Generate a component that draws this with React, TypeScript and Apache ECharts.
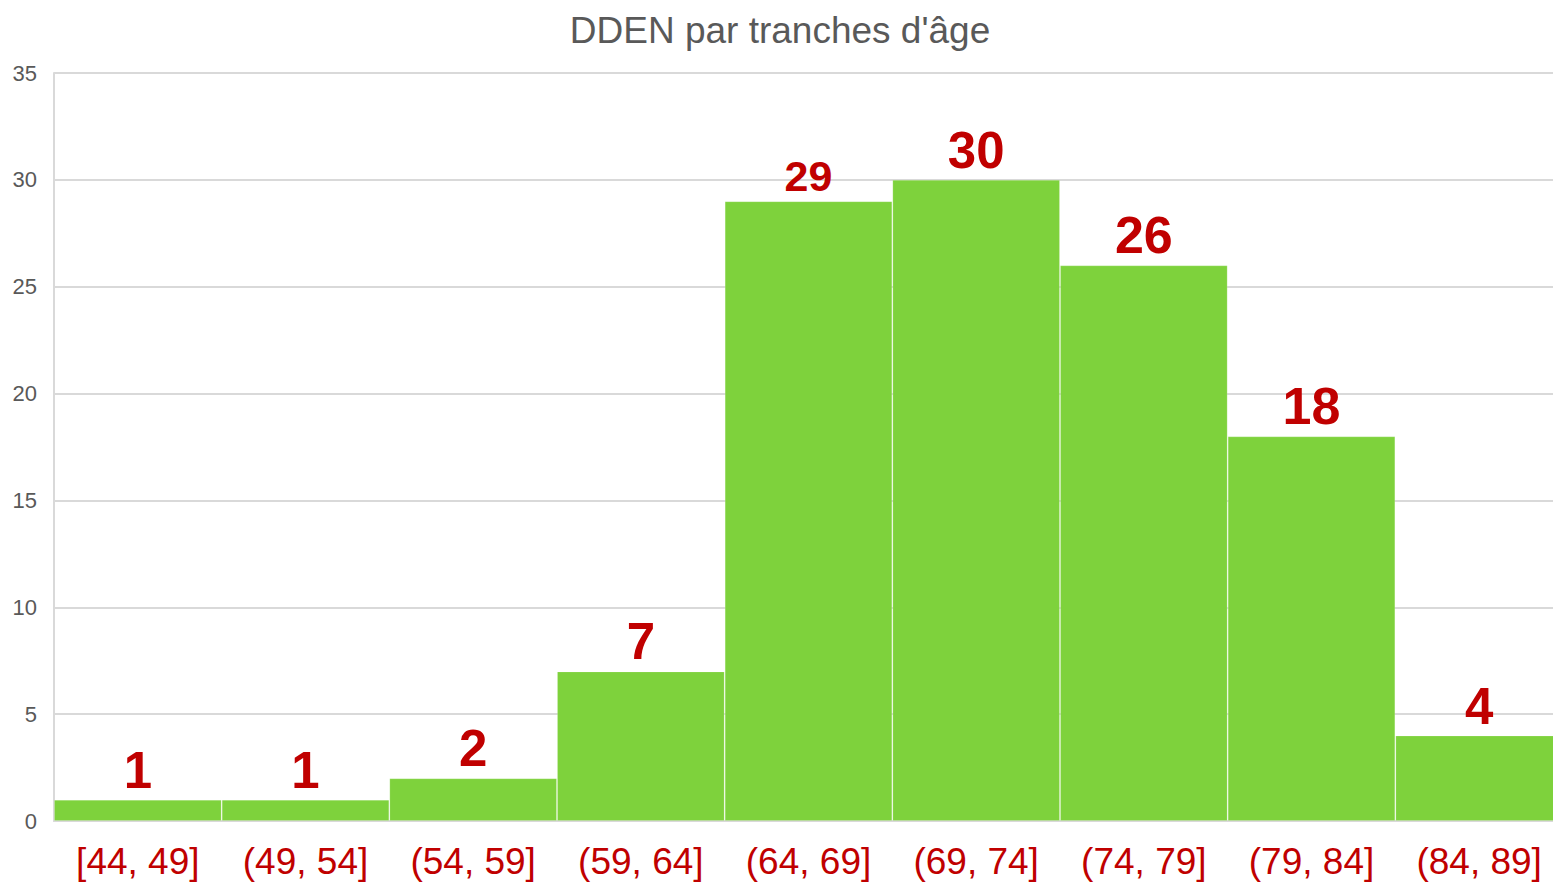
import React, { useEffect, useRef } from "react";
import * as echarts from "echarts";

const categories = ["[44, 49]", "(49, 54]", "(54, 59]", "(59, 64]", "(64, 69]", "(69, 74]", "(74, 79]", "(79, 84]", "(84, 89]"];
const counts = [1, 1, 2, 7, 29, 30, 26, 18, 4];
const labelSizes = [51, 51, 51, 51, 43, 51, 52, 52, 51];
const yTicks = { min: 0, max: 35, interval: 5 };

export default function App() {
  const ref = useRef<HTMLDivElement>(null);
  useEffect(() => {
    const chart = echarts.init(ref.current!, null, { renderer: "svg" });
    chart.setOption({
      animation: false,
      backgroundColor: "#ffffff",
      title: {
        text: "DDEN par tranches d'âge",
        left: 775,
        textAlign: "center",
        top: 7,
        textStyle: { fontFamily: "Liberation Sans", fontSize: 37, fontWeight: "normal", color: "#595959" },
      },
      grid: { left: 54, right: 0, top: 73, bottom: 62, containLabel: false },
      xAxis: {
        type: "category",
        data: categories,
        axisLine: { show: true, lineStyle: { color: "#d9d9d9", width: 2 } },
        axisTick: { show: false },
        axisLabel: { color: "#c00000", fontFamily: "Liberation Sans", fontSize: 37, margin: 22 },
      },
      yAxis: {
        type: "value",
        min: yTicks.min,
        max: yTicks.max,
        interval: yTicks.interval,
        axisLine: { show: true, lineStyle: { color: "#d9d9d9", width: 2 } },
        axisTick: { show: false },
        splitLine: { lineStyle: { color: "#d9d9d9", width: 2 } },
        axisLabel: { color: "#595959", fontFamily: "Liberation Sans", fontSize: 22, margin: 17 },
      },
      series: [
        {
          type: "bar",
          barCategoryGap: "0%",
          data: counts.map((v, i) => ({
            value: v,
            label: { fontSize: labelSizes[i] },
          })),
          itemStyle: { color: "#7ed23c", borderColor: "rgba(255,255,255,0.16)", borderWidth: 1 },
          label: {
            show: true,
            position: "top",
            distance: 4,
            color: "#c00000",
            fontWeight: "bold",
            fontFamily: "Liberation Sans",
          },
        },
      ],
    });
    return () => chart.dispose();
  }, []);
  return (
    <div style={{ position: "fixed", left: 0, top: 0, width: 1553, height: 883, overflow: "hidden" }}>
      <div ref={ref} style={{ width: 1563, height: 883 }} />
    </div>
  );
}
